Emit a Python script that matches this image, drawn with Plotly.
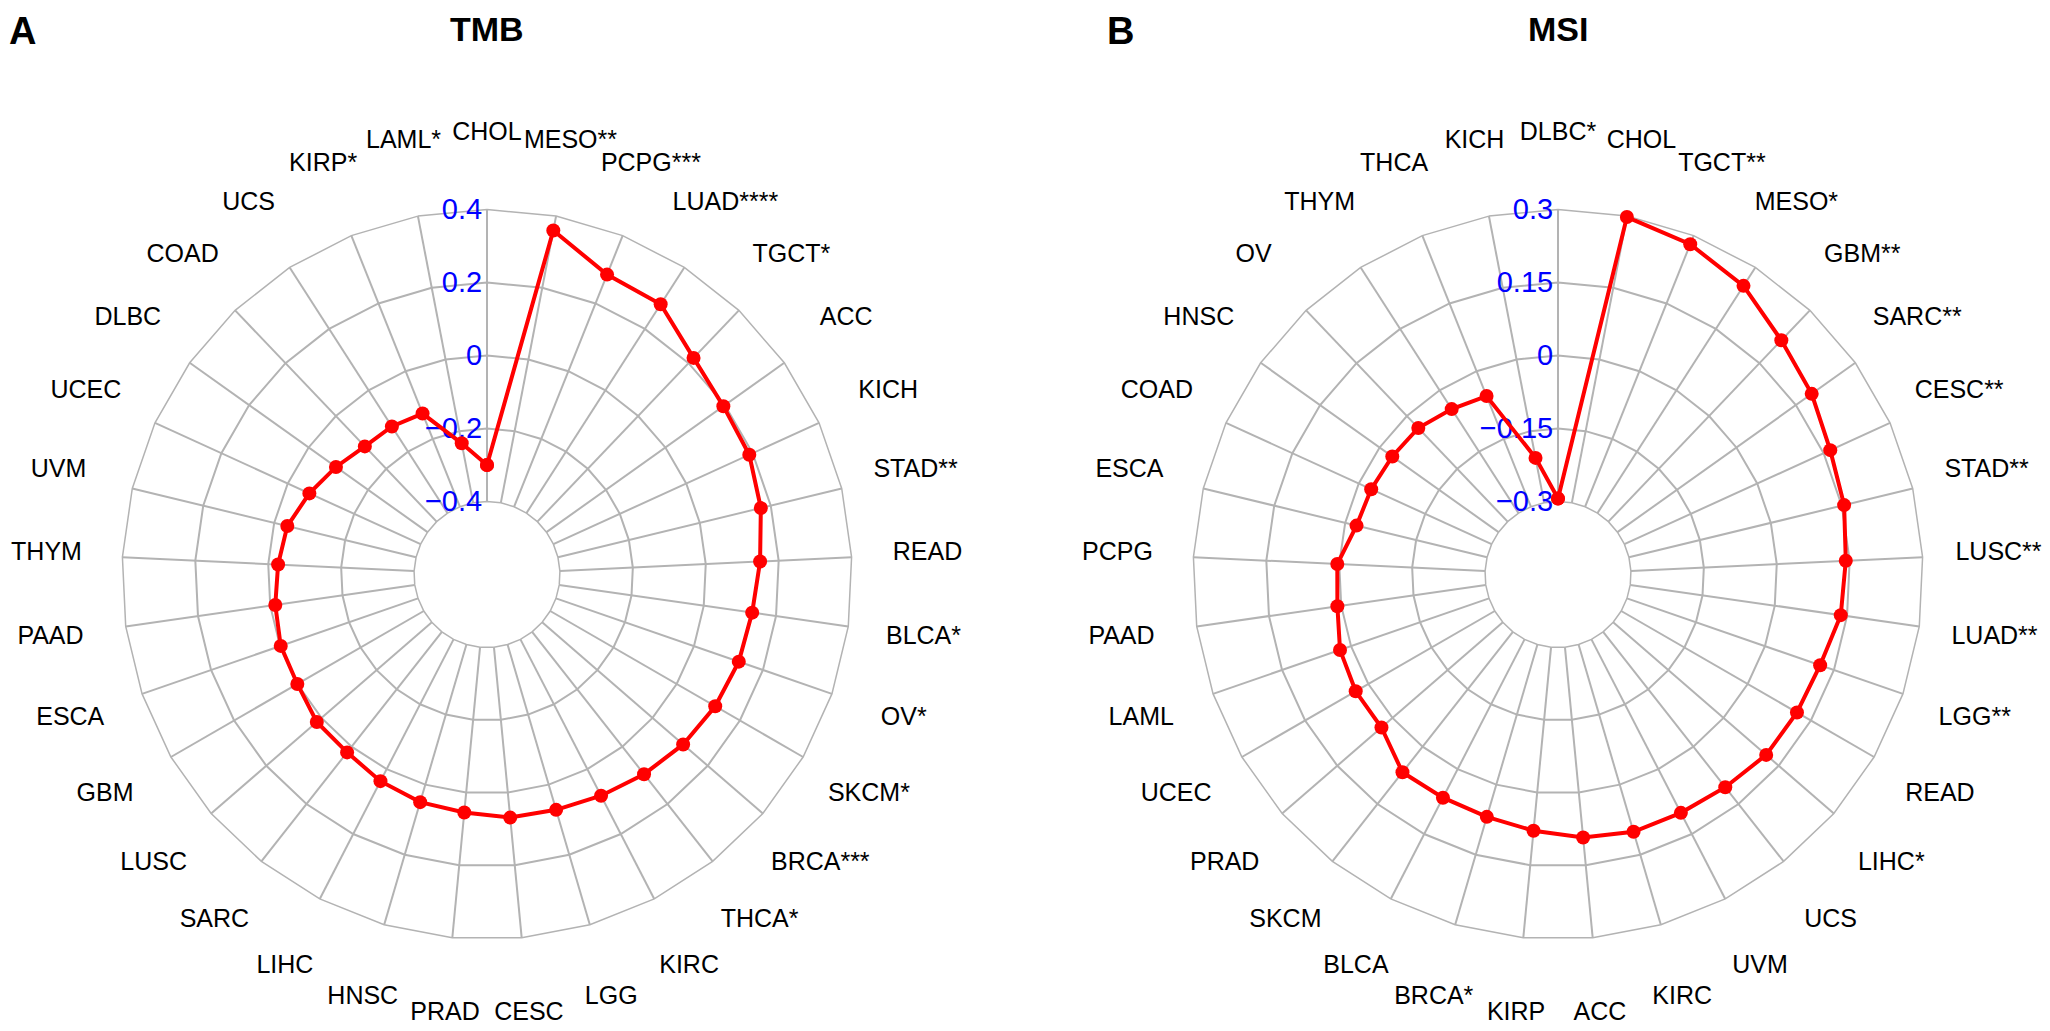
import plotly.graph_objects as go

# ---------------- data ----------------
tmb_labels = ["CHOL", "MESO**", "PCPG***", "LUAD****", "TGCT*", "ACC", "KICH", "STAD**",
              "READ", "BLCA*", "OV*", "SKCM*", "BRCA***", "THCA*", "KIRC", "LGG", "CESC",
              "PRAD", "HNSC", "LIHC", "SARC", "LUSC", "GBM", "ESCA", "PAAD", "THYM", "UVM",
              "UCEC", "DLBC", "COAD", "UCS", "KIRP*", "LAML*"]
tmb_values = [-0.30, 0.36, 0.285, 0.28, 0.22, 0.195, 0.19, 0.172,
              0.149, 0.134, 0.13, 0.122, 0.111, 0.096, 0.082, 0.072, 0.069,
              0.055, 0.05, 0.037, 0.02, 0.017, 0.0, -0.002, -0.014, -0.027, -0.037,
              -0.065, -0.092, -0.115, -0.118, -0.125, -0.234]
tmb_range = [-0.4, 0.4]
tmb_ticks = [-0.4, -0.2, 0, 0.2, 0.4]
tmb_ticktext = ["\u22120.4", "\u22120.2", "0", "0.2", "0.4"]

msi_labels = ["DLBC*", "CHOL", "TGCT**", "MESO*", "GBM**", "SARC**", "CESC**", "STAD**",
              "LUSC**", "LUAD**", "LGG**", "READ", "LIHC*", "UCS", "UVM", "KIRC", "ACC",
              "KIRP", "BRCA*", "BLCA", "SKCM", "PRAD", "UCEC", "LAML", "PAAD", "PCPG",
              "ESCA", "COAD", "HNSC", "OV", "THYM", "THCA", "KICH"]
msi_values = [-0.294, 0.298, 0.281, 0.255, 0.215, 0.19, 0.165, 0.155,
              0.142, 0.137, 0.120, 0.117, 0.116, 0.106, 0.101, 0.101, 0.093,
              0.079, 0.069, 0.066, 0.067, 0.030, 0.030, 0.024, 0.008, 0.004,
              -0.024, -0.028, -0.032, -0.034, -0.046, -0.055, -0.206]
msi_range = [-0.3, 0.3]
msi_ticks = [-0.3, -0.15, 0, 0.15, 0.3]
msi_ticktext = ["\u22120.3", "\u22120.15", "0", "0.15", "0.3"]

# ---------------- styling ----------------
# the page body keeps its default 8px margin, so the figure is 8px smaller
W, H = 2042, 1023
FONT = "Liberation Sans, Arial, sans-serif"
GRID = "#B3B3B3"
RED = "#FF0000"
R = 365            # radius of the plotting polygon (px)
R_LAB = 455        # radius of the label overlay polar (px)
LABEL_POS = 441 / R_LAB   # category labels centred 441 px from the centre
CY = H - 566.5     # centre height (from bottom)
CX_TMB, CX_MSI = 479, 1550

fig = go.Figure()


def add_radar(labels, values, rng, polar, label_polar):
    # radial axis is offset so that its range starts at 0 (the inner hole edge);
    # the tick labels show the original values
    th = list(labels) + [labels[0]]
    rr = [v - rng[0] for v in list(values) + [values[0]]]
    fig.add_trace(go.Scatterpolar(
        r=rr, theta=th, mode="lines+markers", subplot=polar,
        line=dict(color=RED, width=4),
        marker=dict(color=RED, size=14),
        showlegend=False, hoverinfo="theta",
    ))
    fig.add_trace(go.Scatterpolar(
        r=[LABEL_POS] * len(labels), theta=list(labels), mode="text",
        text=list(labels), textposition="middle center", subplot=label_polar,
        textfont=dict(family=FONT, size=25, color="black"),
        showlegend=False, hoverinfo="skip",
    ))


add_radar(tmb_labels, tmb_values, tmb_range, "polar", "polar3")
add_radar(msi_labels, msi_values, msi_range, "polar2", "polar4")


def dom(cx, rad):
    return dict(x=[(cx - rad) / W, (cx + rad) / W], y=[(CY - rad) / H, (CY + rad) / H])


def polar_layout(cx, labels, rng, ticks, ticktext):
    return dict(
        domain=dom(cx, R),
        hole=0.2,
        gridshape="linear",
        bgcolor="white",
        radialaxis=dict(
            range=[0, rng[1] - rng[0]], tickvals=[t - rng[0] for t in ticks],
            ticktext=ticktext, angle=90, tickangle=90,
            side="counterclockwise", showline=False, ticks="",
            tickfont=dict(family=FONT, size=29, color="#0000FF"),
            gridcolor=GRID, gridwidth=1.5, layer="below traces",
        ),
        angularaxis=dict(
            type="category", categoryorder="array", categoryarray=labels,
            direction="clockwise", rotation=90,
            showline=True, linecolor=GRID, linewidth=1.5,
            gridcolor=GRID, gridwidth=1.5,
            ticks="", showticklabels=False,
            layer="below traces",
        ),
    )


def label_layout(cx, labels):
    return dict(
        domain=dom(cx, R_LAB),
        bgcolor="rgba(0,0,0,0)",
        radialaxis=dict(range=[0, 1], visible=False),
        angularaxis=dict(
            type="category", categoryorder="array", categoryarray=labels,
            direction="clockwise", rotation=90,
            showline=False, showgrid=False, ticks="", showticklabels=False,
        ),
    )


def ann(text, x, y, size):
    return dict(text="<b>%s</b>" % text, x=x / W, y=1 - y / H, xref="paper", yref="paper",
                xanchor="center", yanchor="middle", showarrow=False,
                font=dict(family=FONT, size=size, color="black"))


fig.update_layout(
    width=W, height=H,
    margin=dict(l=0, r=0, t=0, b=0),
    paper_bgcolor="white", plot_bgcolor="white",
    polar=polar_layout(CX_TMB, tmb_labels, tmb_range, tmb_ticks, tmb_ticktext),
    polar2=polar_layout(CX_MSI, msi_labels, msi_range, msi_ticks, msi_ticktext),
    polar3=label_layout(CX_TMB, tmb_labels),
    polar4=label_layout(CX_MSI, msi_labels),
    annotations=[
        ann("A", 14.5, 23, 38),
        ann("B", 1112.5, 23, 38),
        ann("TMB", CX_TMB, 21, 34),
        ann("MSI", CX_MSI, 21, 34),
    ],
)

fig.write_html("out.html")
